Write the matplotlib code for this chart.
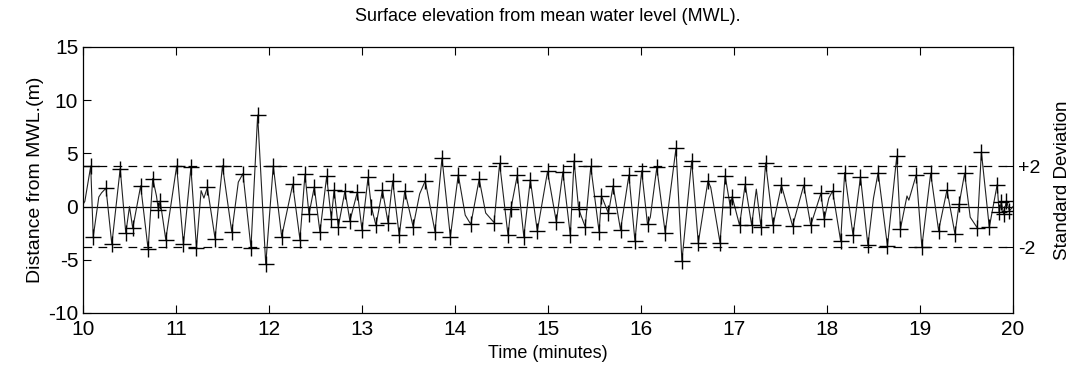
import matplotlib
matplotlib.use("Agg")
import matplotlib.pyplot as plt
import numpy as np

plt.rcParams['font.family'] = ['Liberation Sans', 'DejaVu Sans']

# Time (minutes), elevation (m), 1 = marked crest/trough with '+'
trace_time = [10.00, 10.02, 10.083, 10.11, 10.17, 10.20, 10.247, 10.31, 10.40, 10.46,
              10.50, 10.535, 10.62, 10.70, 10.75, 10.79, 10.81, 10.83, 10.89, 11.007,
              11.08, 11.16, 11.22, 11.27, 11.30, 11.337, 11.42, 11.50, 11.60, 11.67,
              11.72, 11.806, 11.878, 11.965, 12.046, 12.136, 12.255, 12.333, 12.387, 12.43,
              12.487, 12.548, 12.62, 12.67, 12.70, 12.745, 12.817, 12.87, 12.95, 13.00,
              13.065, 13.10, 13.15, 13.22, 13.28, 13.33, 13.40, 13.46, 13.55, 13.62,
              13.68, 13.785, 13.86, 13.95, 14.035, 14.11, 14.17, 14.26, 14.33, 14.37,
              14.42, 14.48, 14.57, 14.60, 14.67, 14.74, 14.81, 14.885, 14.995, 15.09,
              15.16, 15.24, 15.28, 15.33, 15.40, 15.46, 15.55, 15.575, 15.65, 15.70,
              15.78, 15.87, 15.935, 16.007, 16.07, 16.10, 16.17, 16.26, 16.376, 16.44,
              16.545, 16.616, 16.72, 16.75, 16.85, 16.905, 16.96, 16.98, 17.06, 17.12,
              17.19, 17.24, 17.29, 17.34, 17.42, 17.51, 17.63, 17.75, 17.825, 17.935,
              17.97, 18.02, 18.06, 18.147, 18.19, 18.28, 18.36, 18.44, 18.50, 18.55,
              18.65, 18.75, 18.79, 18.86, 18.88, 18.96, 19.02, 19.115, 19.20, 19.29,
              19.376, 19.42, 19.48, 19.54, 19.616, 19.66, 19.745, 19.83, 19.85, 19.875,
              19.90, 19.93, 19.96, 20.00]
trace_val = [0.2, 0.5, 3.8, -2.83, 0.9, 1.3, 1.73, -3.55, 3.58, -2.5,
             0.0, -2.04, 1.95, -4.0, 2.64, 1.0, -0.3, 0.53, -3.1, 3.8,
             -3.55, 3.68, -3.87, 1.5, 0.8, 1.8, -3.0, 3.84, -2.4, 2.3,
             3.1, -3.87, 8.6, -5.44, 3.84, -2.83, 2.1, -3.1, 3.05, -0.72,
             1.86, -2.4, 2.83, -1.13, 1.57, -1.9, 1.48, -1.35, 1.38, -2.2,
             2.74, 0.0, -1.76, 1.54, -1.5, 2.42, -2.7, 1.48, -1.89, 1.2,
             2.42, -2.36, 4.56, -2.83, 3.0, -0.8, -1.67, 2.58, -0.6, -1.0,
             -1.5, 4.06, -2.7, -0.25, 2.96, -2.83, 2.52, -2.3, 3.3, -1.45,
             3.27, -2.7, 4.3, -0.25, -1.9, 3.77, -2.4, 1.0, -0.63, 1.95,
             -2.2, 2.96, -3.24, 3.36, -1.67, -1.0, 3.68, -2.45, 5.47, -5.1,
             4.3, -3.4, 2.42, 1.8, -3.4, 2.9, 0.0, 0.94, -1.76, 2.1,
             -1.76, 1.64, -1.89, 4.1, -1.76, 2.01, -1.82, 2.01, -1.76, 1.26,
             -1.2, 0.8, 1.48, -3.24, 3.2, -2.7, 2.8, -3.65, 0.8, 3.2,
             -3.7, 4.72, -2.07, 1.0, 0.6, 3.0, -3.77, 3.14, -2.26, 1.57,
             -2.58, 0.2, 3.14, -1.0, -2.0, 5.13, -1.95, 2.07, -0.5, 0.4,
             -0.7, 0.57, -0.4, 0.0]
trace_mark = [0, 0, 1, 1, 0, 0, 1, 1, 1, 1,
              0, 1, 1, 1, 1, 0, 1, 1, 1, 1,
              1, 1, 1, 0, 0, 1, 1, 1, 1, 0,
              1, 1, 1, 1, 1, 1, 1, 1, 1, 1,
              1, 1, 1, 1, 1, 1, 1, 1, 1, 1,
              1, 1, 1, 1, 1, 1, 1, 1, 1, 0,
              1, 1, 1, 1, 1, 0, 1, 1, 0, 0,
              1, 1, 1, 1, 1, 1, 1, 1, 1, 1,
              1, 1, 1, 1, 1, 1, 1, 1, 1, 1,
              1, 1, 1, 1, 1, 0, 1, 1, 1, 1,
              1, 1, 1, 0, 1, 1, 1, 1, 1, 1,
              1, 0, 1, 1, 1, 1, 1, 1, 1, 1,
              1, 0, 1, 1, 1, 1, 1, 1, 0, 1,
              1, 1, 1, 0, 0, 1, 1, 1, 1, 1,
              1, 1, 1, 0, 1, 1, 1, 1, 1, 1,
              1, 1, 1, 0]

sd_levels = [3.8, -3.8]
sd_labels = ['+2', '-2']
x_ticks = [10, 11, 12, 13, 14, 15, 16, 17, 18, 19, 20]
y_ticks = [-10, -5, 0, 5, 10, 15]

t = np.array(trace_time)
v = np.array(trace_val)
m = np.array(trace_mark, dtype=bool)

fig = plt.figure(figsize=(10.75, 3.73), dpi=100)
ax = fig.add_axes([83/1075, 1 - 313/373, (1013 - 83)/1075, (313 - 47)/373])

ax.axhline(0, color='black', lw=0.9)
for lvl in sd_levels:
    ax.axhline(lvl, color='black', lw=0.9, ls=(0, (7, 5)))
ax.plot(t, v, color='#222222', lw=0.8)
ax.plot(t[m], v[m], ls='none', marker='+', ms=11, mew=1.0, color='black')

ax.set_xlim(10, 20)
ax.set_ylim(-10, 15)
ax.set_xticks(x_ticks)
ax.set_yticks(y_ticks)
ax.set_yticklabels([str(y) for y in y_ticks])
ax.tick_params(direction='in', length=6, width=0.8, top=True, right=True, labelsize=15)
ax.tick_params(axis='x', pad=5)
for s in ax.spines.values():
    s.set_linewidth(0.9)

ax.set_xlabel('Time (minutes)', fontsize=13, labelpad=4)
ax.set_ylabel('Distance from MWL.(m)', fontsize=14, labelpad=3)
ax.set_title('Surface elevation from mean water level (MWL).', fontsize=13, pad=19)

ax2 = ax.twinx()
ax2.set_ylim(ax.get_ylim())
ax2.set_yticks(sd_levels)
ax2.set_yticklabels(sd_labels)
ax2.tick_params(direction='in', length=6, width=0.8, labelsize=14)
ax2.set_ylabel('Standard Deviation', fontsize=13.5, labelpad=10)
for s in ax2.spines.values():
    s.set_visible(False)

fig.savefig('out.png', dpi=100)
